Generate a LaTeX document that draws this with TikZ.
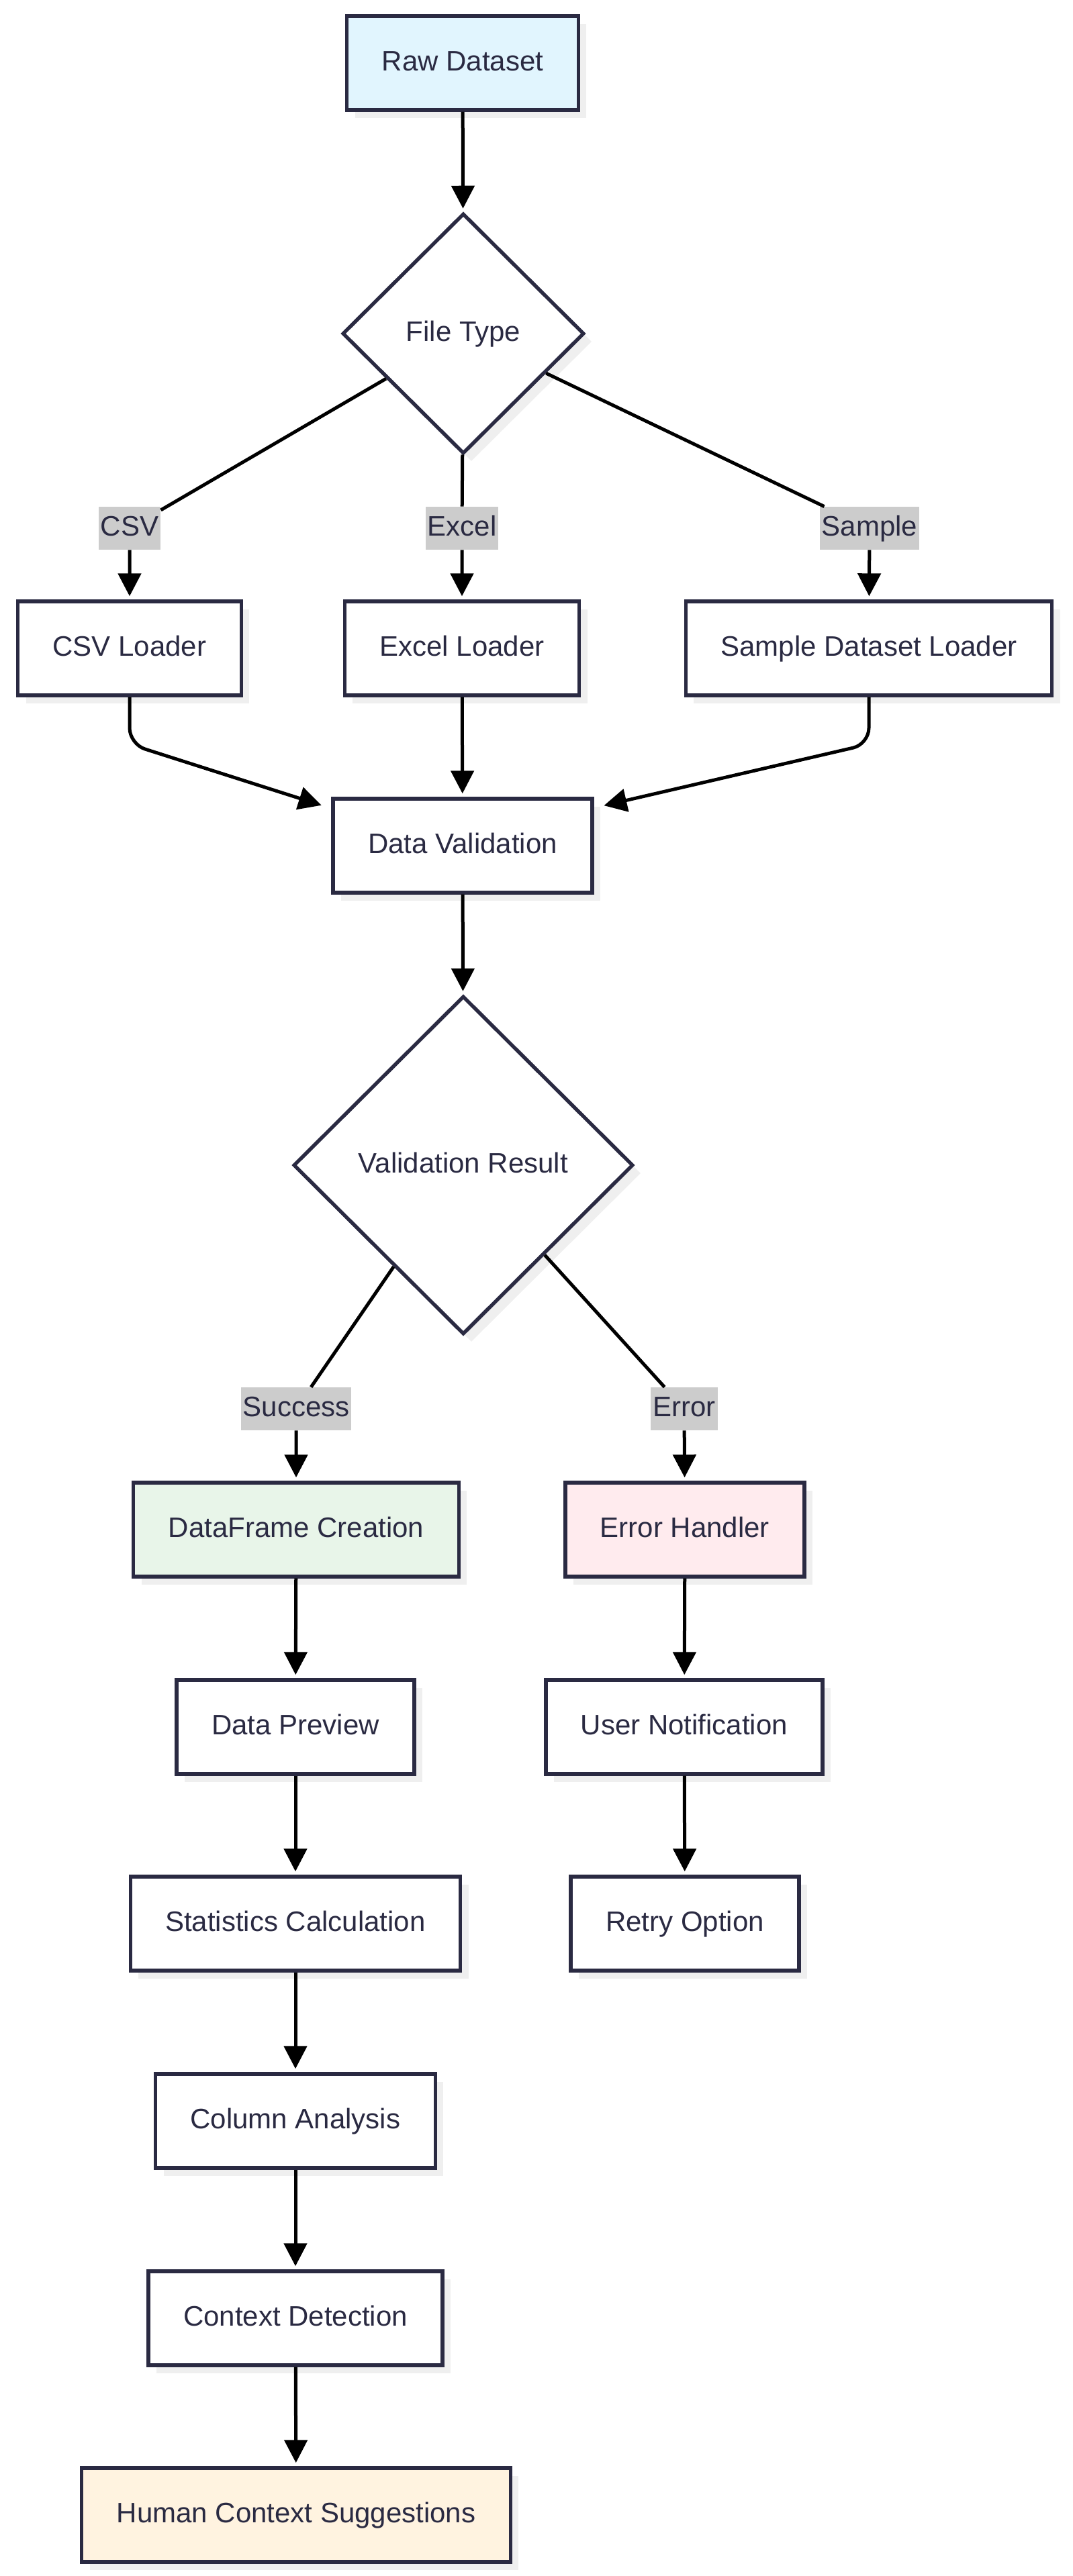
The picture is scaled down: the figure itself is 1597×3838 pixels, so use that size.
\documentclass[tikz,border=0pt]{standalone}
\usepackage{fontspec}
\setmainfont{Liberation Sans}
\usepackage{tikz}
\usetikzlibrary{positioning}
\usetikzlibrary{shapes.geometric}
\usetikzlibrary{arrows.meta}
\usetikzlibrary{shadows}
\usepackage{xcolor}
\definecolor{inkc}{RGB}{42,42,66}
\definecolor{shadowc}{RGB}{239,239,239}
\definecolor{tagc}{RGB}{204,204,204}
\definecolor{rawc}{RGB}{225,245,254}
\definecolor{okc}{RGB}{232,245,233}
\definecolor{errc}{RGB}{255,235,238}
\definecolor{humanc}{RGB}{255,243,224}
\tikzset{
	txt/.style={font=\fontsize{21pt}{25pt}\selectfont, text=inkc, text height=15.5pt, text depth=4.5pt},
	stepbox/.style={txt, draw=inkc, line width=2.7pt, fill=white, rectangle, inner xsep=26pt, minimum height=70pt,
		drop shadow={shadow xshift=6pt, shadow yshift=-6pt, fill=shadowc, opacity=1}},
	choice/.style={txt, draw=inkc, line width=2.7pt, fill=white, diamond, inner sep=0pt,
		drop shadow={shadow xshift=6pt, shadow yshift=-6pt, fill=shadowc, opacity=1}},
	tag/.style={txt, fill=tagc, inner xsep=1.5pt, inner ysep=6pt},
	arr/.style={-{Triangle[length=17pt, width=17pt]}, line width=2.5pt, black, shorten >=2.5pt}
}

\begin{document}
\begin{tikzpicture}[x=0.5pt, y=-0.5pt]
	\useasboundingbox (0,0) rectangle (1597,3838);
	\node[stepbox, fill=rawc] (raw) at (689,94) {Raw Dataset};
	\node[choice, minimum width=180pt, minimum height=179pt] (ft) at (690,497) {File Type};
	\node[tag] (lcsv) at (193,787) {CSV};
	\node[tag] (lexcel) at (688,787) {Excel};
	\node[tag] (lsample) at (1295,787) {Sample};
	\node[stepbox] (csv) at (193,966) {CSV Loader};
	\node[stepbox] (excel) at (688,966) {Excel Loader};
	\node[stepbox] (sample) at (1294,966) {Sample Dataset Loader};
	\node[stepbox] (dv) at (689,1260) {Data Validation};
	\node[choice, minimum width=253pt, minimum height=252pt] (vr) at (690,1736) {Validation Result};
	\node[tag] (lsuc) at (441,2099) {Success};
	\node[tag] (lerr) at (1019,2099) {Error};
	\node[stepbox, fill=okc] (df) at (441,2279) {DataFrame Creation};
	\node[stepbox, fill=errc] (eh) at (1020,2279) {Error Handler};
	\node[stepbox] (dp) at (440,2573) {Data Preview};
	\node[stepbox] (un) at (1019,2573) {User Notification};
	\node[stepbox] (sc) at (440,2866) {Statistics Calculation};
	\node[stepbox] (ro) at (1020,2866) {Retry Option};
	\node[stepbox] (ca) at (440,3160) {Column Analysis};
	\node[stepbox] (cd) at (440,3454) {Context Detection};
	\node[stepbox, fill=humanc] (hcs) at (441,3747) {Human Context Suggestions};

	\draw[arr] (raw) -- (ft);
	\draw[arr] (ft) -- (lcsv) -- (csv);
	\draw[arr] (ft) -- (lexcel) -- (excel);
	\draw[arr] (ft) -- (lsample) -- (sample);
	\draw[arr, rounded corners=12pt] (csv.south) -- ++(0,70) -- ([xshift=-5pt, yshift=-7pt]dv.north west);
	\draw[arr] (excel) -- (dv);
	\draw[arr, rounded corners=12pt] (sample.south) -- ++(0,70) -- ([xshift=5pt, yshift=-7pt]dv.north east);
	\draw[arr] (dv) -- (vr);
	\draw[arr] (vr) -- (lsuc) -- (df);
	\draw[arr] (vr) -- (lerr) -- (eh);
	\draw[arr] (df) -- (dp);
	\draw[arr] (dp) -- (sc);
	\draw[arr] (sc) -- (ca);
	\draw[arr] (ca) -- (cd);
	\draw[arr] (cd) -- (hcs);
	\draw[arr] (eh) -- (un);
	\draw[arr] (un) -- (ro);
\end{tikzpicture}
\end{document}
